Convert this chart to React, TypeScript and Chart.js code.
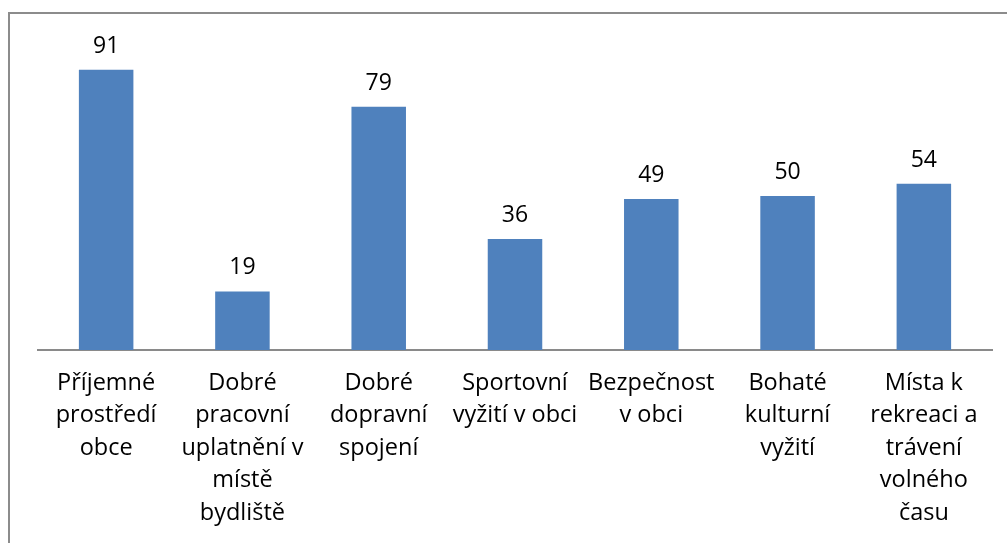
import React, { useEffect, useRef } from "react";
import { Chart, registerables } from "chart.js";

Chart.register(...registerables);

const categories: string[][] = [
  ["Příjemné", "prostředí", "obce"],
  ["Dobré", "pracovní", "uplatnění v", "místě", "bydliště"],
  ["Dobré", "dopravní", "spojení"],
  ["Sportovní", "vyžití v obci"],
  ["Bezpečnost", "v obci"],
  ["Bohaté", "kulturní", "vyžití"],
  ["Místa k", "rekreaci a", "trávení", "volného", "času"],
];
const values: number[] = [91, 19, 79, 36, 49, 50, 54];
const axisMax = 100;

const FONT = "'Open Sans', Lato, sans-serif";

const valueLabels = {
  id: "valueLabels",
  afterDatasetsDraw(chart: any) {
    const ctx = chart.ctx;
    const meta = chart.getDatasetMeta(0);
    ctx.save();
    ctx.fillStyle = "#000";
    ctx.font = `23px ${FONT}`;
    ctx.textAlign = "center";
    ctx.textBaseline = "alphabetic";
    meta.data.forEach((bar: any, i: number) => {
      ctx.fillText(String(values[i]), bar.x, bar.y - 17);
    });
    ctx.restore();
  },
};

export default function App() {
  const ref = useRef<HTMLCanvasElement | null>(null);
  useEffect(() => {
    if (!ref.current) return;
    const chart = new Chart(ref.current, {
      type: "bar",
      data: {
        labels: categories,
        datasets: [
          {
            data: values,
            backgroundColor: "#4F81BD",
            borderWidth: 0,
            categoryPercentage: 1,
            barPercentage: 0.4,
          },
        ],
      },
      options: {
        responsive: false,
        animation: false,
        layout: { padding: { left: 38, right: 15, top: 42, bottom: 0 } },
        plugins: {
          legend: { display: false },
          tooltip: { enabled: false },
        },
        scales: {
          x: {
            grid: { display: false, drawTicks: false },
            border: { display: true, color: "#8a8a8a", width: 2 },
            ticks: {
              color: "#000",
              font: { family: FONT, size: 23.5, lineHeight: "32.5px" } as any,
              maxRotation: 0,
              autoSkip: false,
              padding: 17,
            },
            afterFit(scale: any) {
              scale.height = 193;
            },
          },
          y: {
            display: false,
            min: 0,
            max: axisMax,
          },
        },
      },
      plugins: [valueLabels],
    });
    return () => chart.destroy();
  }, []);
  return (
    <div>
      <div
        style={{
          position: "fixed",
          left: 0,
          top: 0,
          width: 1007,
          height: 543,
        }}
      >
        <canvas ref={ref} width={1007} height={543} />
      </div>
      <div
        style={{
          position: "fixed",
          left: 8,
          top: 12,
          width: 1007,
          height: 600,
          borderLeft: "2px solid #8c8c8c",
          borderTop: "2px solid #8c8c8c",
          pointerEvents: "none",
        }}
      />
    </div>
  );
}
